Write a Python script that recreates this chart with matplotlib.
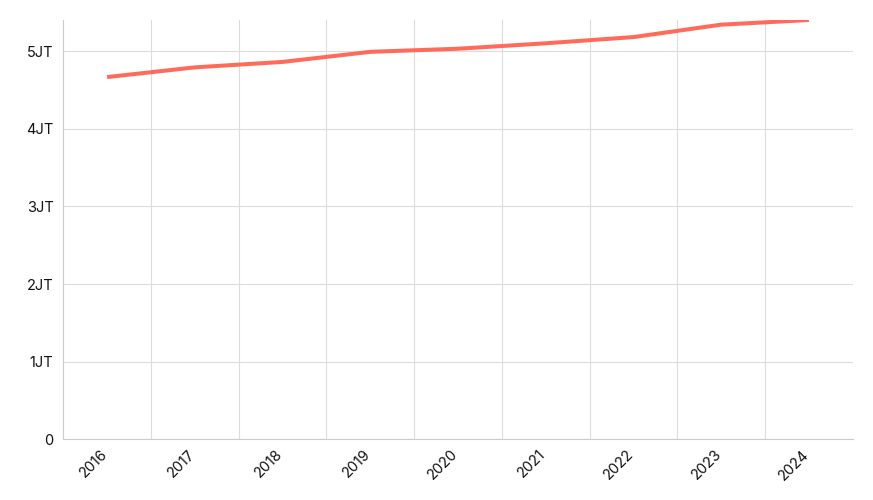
import matplotlib
matplotlib.use("Agg")
import matplotlib.pyplot as plt
from matplotlib.ticker import FixedLocator
from matplotlib.transforms import ScaledTranslation

years = ["2016", "2017", "2018", "2019", "2020", "2021", "2022", "2023", "2024"]
values = [4.665, 4.79, 4.86, 4.99, 5.03, 5.10, 5.18, 5.34, 5.40]
ytick_vals = [0, 1, 2, 3, 4, 5]
ytick_labels = ["0", "1JT", "2JT", "3JT", "4JT", "5JT"]

plt.rcParams['font.family'] = ['Inter', 'DejaVu Sans']

fig = plt.figure(figsize=(8.73, 5.0), dpi=100)
ax = fig.add_axes([0.0725, 0.1214, 0.9043, 0.8386])

x = list(range(len(years)))
ax.plot(x, values, color="#ff6b5b", linewidth=2.9, solid_capstyle="butt", zorder=3)

ax.set_xlim(-0.5, len(years) - 0.5)
ax.set_ylim(0, max(values))

ax.set_yticks(ytick_vals)
ax.set_yticklabels(ytick_labels, fontsize=10.5, color="#111111")
ax.set_xticks(x)
ax.set_xticklabels(years, rotation=45, ha="right", rotation_mode="anchor", fontsize=10.5, color="#111111")
ax.xaxis.set_minor_locator(FixedLocator([i + 0.5 for i in range(len(years) - 1)]))

ax.tick_params(axis="both", which="both", length=0)
ax.tick_params(axis="y", pad=7)
ax.tick_params(axis="x", pad=7)

shift = ScaledTranslation(-7 / 100, 2 / 100, fig.dpi_scale_trans)
for lbl in ax.get_xticklabels():
    lbl.set_transform(lbl.get_transform() + shift)

ax.grid(axis="y", which="major", color="#dcdcdc", linewidth=0.8)
ax.grid(axis="x", which="minor", color="#dcdcdc", linewidth=0.8)
ax.grid(axis="x", which="major", visible=False)

for side in ["top", "right"]:
    ax.spines[side].set_visible(False)
for side in ["left", "bottom"]:
    ax.spines[side].set_color("#cccccc")
    ax.spines[side].set_linewidth(0.8)

fig.savefig("out.png", dpi=100)
